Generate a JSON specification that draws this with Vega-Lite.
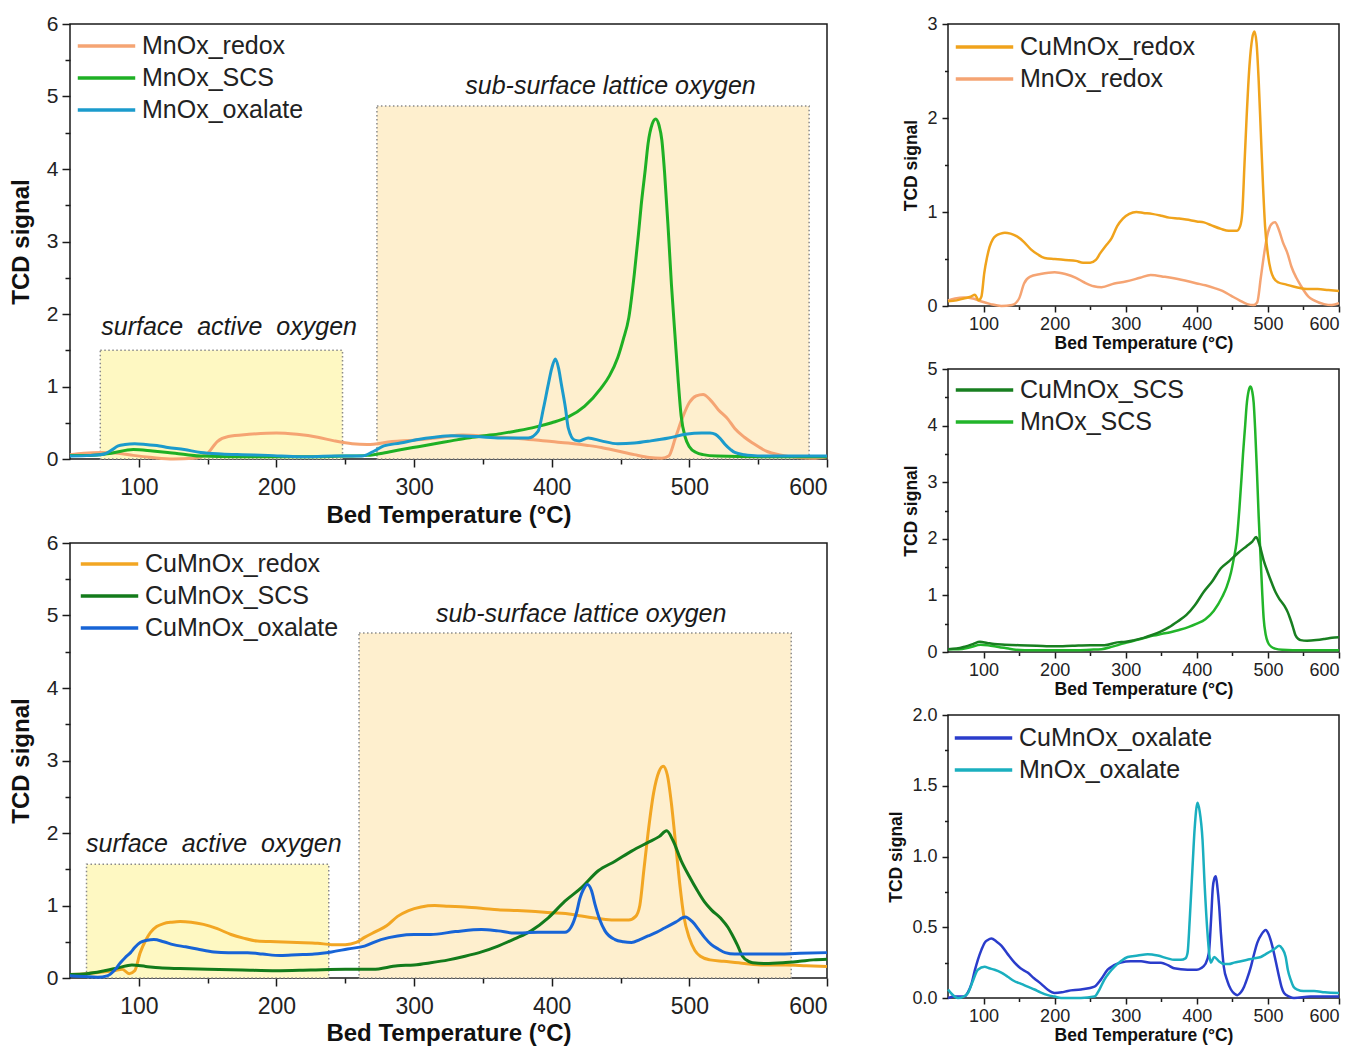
{
  "$schema": "https://vega.github.io/schema/vega-lite/v6.json",
  "padding": {"left": 8, "top": 12, "right": 0, "bottom": 0},
  "config": {
    "font": "Liberation Sans",
    "view": {"stroke": "#1a1a1a", "strokeWidth": 1.5},
    "axis": {"grid": false, "domain": false, "tickColor": "#1a1a1a", "tickWidth": 1.5, "labelColor": "#222222", "titleColor": "#111111", "labelFont": "Liberation Sans", "titleFont": "Liberation Sans", "titleFontWeight": "bold"},
    "legend": {"orient": "none", "title": null, "symbolType": "stroke", "labelFontSize": 25, "labelLimit": 0, "labelColor": "#222222", "labelFont": "Liberation Sans", "padding": 0, "clipHeight": 26, "rowPadding": 6, "labelOffset": 5, "symbolStrokeWidth": 3.5, "symbolSize": 3300}
  },
  "datasets": {
    "boxes": [
      {"panel": "A", "zone": "surface", "x1": 72, "x2": 248, "y1": 0, "y2": 1.5},
      {"panel": "A", "zone": "lattice", "x1": 273, "x2": 587, "y1": 0, "y2": 4.87},
      {"panel": "B", "zone": "surface", "x1": 62, "x2": 238, "y1": 0, "y2": 1.57},
      {"panel": "B", "zone": "lattice", "x1": 260, "x2": 574, "y1": 0, "y2": 4.76}
    ],
    "notes": [
      {"panel": "A", "t": 165.6, "v": 1.82, "label": "surface\u00a0 active\u00a0 oxygen"},
      {"panel": "A", "t": 442.7, "v": 5.14, "label": "sub-surface lattice oxygen"},
      {"panel": "B", "t": 154.5, "v": 1.85, "label": "surface\u00a0 active\u00a0 oxygen"},
      {"panel": "B", "t": 421.4, "v": 5.02, "label": "sub-surface lattice oxygen"}
    ],
    "curves": [
      {"s":"MnOx_redox","t":50,"v":0.06},{"s":"MnOx_redox","t":60,"v":0.08},{"s":"MnOx_redox","t":73,"v":0.09},{"s":"MnOx_redox","t":85,"v":0.08},{"s":"MnOx_redox","t":96,"v":0.05},{"s":"MnOx_redox","t":110,"v":0.02},{"s":"MnOx_redox","t":125,"v":0.0},{"s":"MnOx_redox","t":140,"v":0.01},{"s":"MnOx_redox","t":150,"v":0.08},{"s":"MnOx_redox","t":157,"v":0.24},{"s":"MnOx_redox","t":165,"v":0.31},{"s":"MnOx_redox","t":180,"v":0.34},{"s":"MnOx_redox","t":200,"v":0.36},{"s":"MnOx_redox","t":215,"v":0.34},{"s":"MnOx_redox","t":230,"v":0.3},{"s":"MnOx_redox","t":242,"v":0.25},{"s":"MnOx_redox","t":255,"v":0.21},{"s":"MnOx_redox","t":266,"v":0.2},{"s":"MnOx_redox","t":284,"v":0.24},{"s":"MnOx_redox","t":300,"v":0.26},{"s":"MnOx_redox","t":320,"v":0.3},{"s":"MnOx_redox","t":335,"v":0.33},{"s":"MnOx_redox","t":355,"v":0.31},{"s":"MnOx_redox","t":378,"v":0.28},{"s":"MnOx_redox","t":400,"v":0.24},{"s":"MnOx_redox","t":412,"v":0.22},{"s":"MnOx_redox","t":425,"v":0.19},{"s":"MnOx_redox","t":436,"v":0.16},{"s":"MnOx_redox","t":448,"v":0.11},{"s":"MnOx_redox","t":460,"v":0.06},{"s":"MnOx_redox","t":471,"v":0.02},{"s":"MnOx_redox","t":480,"v":0.01},{"s":"MnOx_redox","t":485,"v":0.04},{"s":"MnOx_redox","t":490,"v":0.3},{"s":"MnOx_redox","t":495,"v":0.57},{"s":"MnOx_redox","t":500,"v":0.78},{"s":"MnOx_redox","t":505,"v":0.87},{"s":"MnOx_redox","t":510,"v":0.89},{"s":"MnOx_redox","t":515,"v":0.82},{"s":"MnOx_redox","t":521,"v":0.68},{"s":"MnOx_redox","t":528,"v":0.55},{"s":"MnOx_redox","t":533,"v":0.42},{"s":"MnOx_redox","t":540,"v":0.3},{"s":"MnOx_redox","t":546,"v":0.22},{"s":"MnOx_redox","t":557,"v":0.1},{"s":"MnOx_redox","t":565,"v":0.06},{"s":"MnOx_redox","t":579,"v":0.02},{"s":"MnOx_redox","t":590,"v":0.01},{"s":"MnOx_redox","t":600,"v":0.03},
      {"s":"MnOx_SCS","t":50,"v":0.05},{"s":"MnOx_SCS","t":65,"v":0.05},{"s":"MnOx_SCS","t":80,"v":0.08},{"s":"MnOx_SCS","t":96,"v":0.13},{"s":"MnOx_SCS","t":110,"v":0.11},{"s":"MnOx_SCS","t":121,"v":0.09},{"s":"MnOx_SCS","t":135,"v":0.06},{"s":"MnOx_SCS","t":145,"v":0.04},{"s":"MnOx_SCS","t":170,"v":0.03},{"s":"MnOx_SCS","t":200,"v":0.03},{"s":"MnOx_SCS","t":230,"v":0.03},{"s":"MnOx_SCS","t":250,"v":0.04},{"s":"MnOx_SCS","t":266,"v":0.05},{"s":"MnOx_SCS","t":280,"v":0.09},{"s":"MnOx_SCS","t":291,"v":0.13},{"s":"MnOx_SCS","t":303,"v":0.17},{"s":"MnOx_SCS","t":315,"v":0.21},{"s":"MnOx_SCS","t":327,"v":0.25},{"s":"MnOx_SCS","t":339,"v":0.29},{"s":"MnOx_SCS","t":351,"v":0.32},{"s":"MnOx_SCS","t":363,"v":0.35},{"s":"MnOx_SCS","t":375,"v":0.39},{"s":"MnOx_SCS","t":388,"v":0.44},{"s":"MnOx_SCS","t":400,"v":0.5},{"s":"MnOx_SCS","t":412,"v":0.58},{"s":"MnOx_SCS","t":424,"v":0.73},{"s":"MnOx_SCS","t":436,"v":0.98},{"s":"MnOx_SCS","t":442,"v":1.15},{"s":"MnOx_SCS","t":448,"v":1.4},{"s":"MnOx_SCS","t":452,"v":1.65},{"s":"MnOx_SCS","t":456,"v":1.95},{"s":"MnOx_SCS","t":460,"v":2.55},{"s":"MnOx_SCS","t":463,"v":3.1},{"s":"MnOx_SCS","t":465,"v":3.5},{"s":"MnOx_SCS","t":468,"v":4.0},{"s":"MnOx_SCS","t":470,"v":4.35},{"s":"MnOx_SCS","t":473,"v":4.62},{"s":"MnOx_SCS","t":475.5,"v":4.69},{"s":"MnOx_SCS","t":478,"v":4.6},{"s":"MnOx_SCS","t":480,"v":4.4},{"s":"MnOx_SCS","t":482,"v":3.95},{"s":"MnOx_SCS","t":484.7,"v":3.15},{"s":"MnOx_SCS","t":487,"v":2.4},{"s":"MnOx_SCS","t":489.5,"v":1.72},{"s":"MnOx_SCS","t":492,"v":1.05},{"s":"MnOx_SCS","t":494,"v":0.6},{"s":"MnOx_SCS","t":497,"v":0.3},{"s":"MnOx_SCS","t":500,"v":0.17},{"s":"MnOx_SCS","t":505,"v":0.09},{"s":"MnOx_SCS","t":510,"v":0.06},{"s":"MnOx_SCS","t":520,"v":0.04},{"s":"MnOx_SCS","t":550,"v":0.03},{"s":"MnOx_SCS","t":600,"v":0.03},
      {"s":"MnOx_oxalate","t":50,"v":0.04},{"s":"MnOx_oxalate","t":65,"v":0.05},{"s":"MnOx_oxalate","t":75,"v":0.07},{"s":"MnOx_oxalate","t":80,"v":0.12},{"s":"MnOx_oxalate","t":85,"v":0.18},{"s":"MnOx_oxalate","t":90,"v":0.2},{"s":"MnOx_oxalate","t":97,"v":0.21},{"s":"MnOx_oxalate","t":105,"v":0.2},{"s":"MnOx_oxalate","t":115,"v":0.18},{"s":"MnOx_oxalate","t":121,"v":0.16},{"s":"MnOx_oxalate","t":133,"v":0.13},{"s":"MnOx_oxalate","t":145,"v":0.09},{"s":"MnOx_oxalate","t":160,"v":0.07},{"s":"MnOx_oxalate","t":175,"v":0.06},{"s":"MnOx_oxalate","t":194,"v":0.05},{"s":"MnOx_oxalate","t":218,"v":0.03},{"s":"MnOx_oxalate","t":242,"v":0.04},{"s":"MnOx_oxalate","t":262,"v":0.04},{"s":"MnOx_oxalate","t":270,"v":0.1},{"s":"MnOx_oxalate","t":278,"v":0.18},{"s":"MnOx_oxalate","t":290,"v":0.22},{"s":"MnOx_oxalate","t":303,"v":0.27},{"s":"MnOx_oxalate","t":315,"v":0.3},{"s":"MnOx_oxalate","t":327,"v":0.32},{"s":"MnOx_oxalate","t":345,"v":0.31},{"s":"MnOx_oxalate","t":363,"v":0.29},{"s":"MnOx_oxalate","t":383,"v":0.29},{"s":"MnOx_oxalate","t":390,"v":0.38},{"s":"MnOx_oxalate","t":394,"v":0.7},{"s":"MnOx_oxalate","t":397.5,"v":1.03},{"s":"MnOx_oxalate","t":400,"v":1.25},{"s":"MnOx_oxalate","t":402.7,"v":1.38},{"s":"MnOx_oxalate","t":405,"v":1.25},{"s":"MnOx_oxalate","t":407,"v":1.03},{"s":"MnOx_oxalate","t":410,"v":0.7},{"s":"MnOx_oxalate","t":412,"v":0.43},{"s":"MnOx_oxalate","t":416.7,"v":0.26},{"s":"MnOx_oxalate","t":420,"v":0.25},{"s":"MnOx_oxalate","t":426.5,"v":0.29},{"s":"MnOx_oxalate","t":436,"v":0.25},{"s":"MnOx_oxalate","t":448,"v":0.21},{"s":"MnOx_oxalate","t":460,"v":0.22},{"s":"MnOx_oxalate","t":472,"v":0.25},{"s":"MnOx_oxalate","t":485,"v":0.29},{"s":"MnOx_oxalate","t":497,"v":0.34},{"s":"MnOx_oxalate","t":509,"v":0.36},{"s":"MnOx_oxalate","t":515,"v":0.36},{"s":"MnOx_oxalate","t":519,"v":0.34},{"s":"MnOx_oxalate","t":523,"v":0.27},{"s":"MnOx_oxalate","t":526,"v":0.2},{"s":"MnOx_oxalate","t":530,"v":0.13},{"s":"MnOx_oxalate","t":533,"v":0.09},{"s":"MnOx_oxalate","t":540,"v":0.06},{"s":"MnOx_oxalate","t":545,"v":0.05},{"s":"MnOx_oxalate","t":560,"v":0.04},{"s":"MnOx_oxalate","t":600,"v":0.04},
      {"s":"CuMnOx_redox","t":50,"v":0.05},{"s":"CuMnOx_redox","t":62,"v":0.06},{"s":"CuMnOx_redox","t":72,"v":0.08},{"s":"CuMnOx_redox","t":82,"v":0.1},{"s":"CuMnOx_redox","t":88,"v":0.12},{"s":"CuMnOx_redox","t":93,"v":0.06},{"s":"CuMnOx_redox","t":97,"v":0.1},{"s":"CuMnOx_redox","t":101,"v":0.35},{"s":"CuMnOx_redox","t":105,"v":0.52},{"s":"CuMnOx_redox","t":108.5,"v":0.63},{"s":"CuMnOx_redox","t":113,"v":0.71},{"s":"CuMnOx_redox","t":118,"v":0.75},{"s":"CuMnOx_redox","t":124,"v":0.77},{"s":"CuMnOx_redox","t":130,"v":0.78},{"s":"CuMnOx_redox","t":138,"v":0.77},{"s":"CuMnOx_redox","t":147,"v":0.74},{"s":"CuMnOx_redox","t":157,"v":0.68},{"s":"CuMnOx_redox","t":167,"v":0.6},{"s":"CuMnOx_redox","t":176,"v":0.55},{"s":"CuMnOx_redox","t":186,"v":0.51},{"s":"CuMnOx_redox","t":200,"v":0.5},{"s":"CuMnOx_redox","t":215,"v":0.49},{"s":"CuMnOx_redox","t":230,"v":0.48},{"s":"CuMnOx_redox","t":240,"v":0.46},{"s":"CuMnOx_redox","t":250,"v":0.46},{"s":"CuMnOx_redox","t":258,"v":0.49},{"s":"CuMnOx_redox","t":264,"v":0.56},{"s":"CuMnOx_redox","t":272,"v":0.64},{"s":"CuMnOx_redox","t":280,"v":0.72},{"s":"CuMnOx_redox","t":288,"v":0.85},{"s":"CuMnOx_redox","t":296,"v":0.93},{"s":"CuMnOx_redox","t":305,"v":0.98},{"s":"CuMnOx_redox","t":315,"v":1.0},{"s":"CuMnOx_redox","t":325,"v":0.99},{"s":"CuMnOx_redox","t":337,"v":0.98},{"s":"CuMnOx_redox","t":350,"v":0.96},{"s":"CuMnOx_redox","t":361,"v":0.94},{"s":"CuMnOx_redox","t":375,"v":0.93},{"s":"CuMnOx_redox","t":385,"v":0.92},{"s":"CuMnOx_redox","t":400,"v":0.9},{"s":"CuMnOx_redox","t":410,"v":0.89},{"s":"CuMnOx_redox","t":420,"v":0.86},{"s":"CuMnOx_redox","t":434,"v":0.82},{"s":"CuMnOx_redox","t":445,"v":0.8},{"s":"CuMnOx_redox","t":456,"v":0.8},{"s":"CuMnOx_redox","t":461,"v":0.85},{"s":"CuMnOx_redox","t":464,"v":1.0},{"s":"CuMnOx_redox","t":467,"v":1.5},{"s":"CuMnOx_redox","t":470,"v":2.0},{"s":"CuMnOx_redox","t":474,"v":2.55},{"s":"CuMnOx_redox","t":478,"v":2.85},{"s":"CuMnOx_redox","t":481,"v":2.92},{"s":"CuMnOx_redox","t":484,"v":2.8},{"s":"CuMnOx_redox","t":487,"v":2.4},{"s":"CuMnOx_redox","t":490,"v":1.85},{"s":"CuMnOx_redox","t":493,"v":1.3},{"s":"CuMnOx_redox","t":496,"v":0.85},{"s":"CuMnOx_redox","t":500,"v":0.55},{"s":"CuMnOx_redox","t":504,"v":0.38},{"s":"CuMnOx_redox","t":508,"v":0.3},{"s":"CuMnOx_redox","t":515,"v":0.25},{"s":"CuMnOx_redox","t":525,"v":0.23},{"s":"CuMnOx_redox","t":540,"v":0.2},{"s":"CuMnOx_redox","t":555,"v":0.18},{"s":"CuMnOx_redox","t":570,"v":0.18},{"s":"CuMnOx_redox","t":585,"v":0.17},{"s":"CuMnOx_redox","t":600,"v":0.16},
      {"s":"CuMnOx_SCS","t":50,"v":0.05},{"s":"CuMnOx_SCS","t":62,"v":0.06},{"s":"CuMnOx_SCS","t":75,"v":0.1},{"s":"CuMnOx_SCS","t":85,"v":0.14},{"s":"CuMnOx_SCS","t":95,"v":0.18},{"s":"CuMnOx_SCS","t":105,"v":0.16},{"s":"CuMnOx_SCS","t":115,"v":0.14},{"s":"CuMnOx_SCS","t":130,"v":0.13},{"s":"CuMnOx_SCS","t":150,"v":0.12},{"s":"CuMnOx_SCS","t":175,"v":0.11},{"s":"CuMnOx_SCS","t":200,"v":0.1},{"s":"CuMnOx_SCS","t":225,"v":0.11},{"s":"CuMnOx_SCS","t":250,"v":0.12},{"s":"CuMnOx_SCS","t":270,"v":0.12},{"s":"CuMnOx_SCS","t":288,"v":0.17},{"s":"CuMnOx_SCS","t":300,"v":0.18},{"s":"CuMnOx_SCS","t":312,"v":0.21},{"s":"CuMnOx_SCS","t":325,"v":0.25},{"s":"CuMnOx_SCS","t":337,"v":0.3},{"s":"CuMnOx_SCS","t":349,"v":0.36},{"s":"CuMnOx_SCS","t":361,"v":0.44},{"s":"CuMnOx_SCS","t":373,"v":0.54},{"s":"CuMnOx_SCS","t":385,"v":0.65},{"s":"CuMnOx_SCS","t":397.5,"v":0.83},{"s":"CuMnOx_SCS","t":409.6,"v":1.06},{"s":"CuMnOx_SCS","t":421.8,"v":1.25},{"s":"CuMnOx_SCS","t":433.8,"v":1.48},{"s":"CuMnOx_SCS","t":446,"v":1.61},{"s":"CuMnOx_SCS","t":458,"v":1.75},{"s":"CuMnOx_SCS","t":470,"v":1.87},{"s":"CuMnOx_SCS","t":478,"v":1.95},{"s":"CuMnOx_SCS","t":483.5,"v":2.03},{"s":"CuMnOx_SCS","t":488,"v":1.9},{"s":"CuMnOx_SCS","t":494,"v":1.62},{"s":"CuMnOx_SCS","t":500,"v":1.4},{"s":"CuMnOx_SCS","t":506,"v":1.2},{"s":"CuMnOx_SCS","t":511,"v":1.05},{"s":"CuMnOx_SCS","t":516,"v":0.94},{"s":"CuMnOx_SCS","t":523,"v":0.82},{"s":"CuMnOx_SCS","t":528,"v":0.7},{"s":"CuMnOx_SCS","t":531,"v":0.6},{"s":"CuMnOx_SCS","t":535,"v":0.45},{"s":"CuMnOx_SCS","t":538.6,"v":0.3},{"s":"CuMnOx_SCS","t":543,"v":0.23},{"s":"CuMnOx_SCS","t":546,"v":0.21},{"s":"CuMnOx_SCS","t":555,"v":0.2},{"s":"CuMnOx_SCS","t":568,"v":0.21},{"s":"CuMnOx_SCS","t":580,"v":0.23},{"s":"CuMnOx_SCS","t":590,"v":0.25},{"s":"CuMnOx_SCS","t":600,"v":0.26},
      {"s":"CuMnOx_oxalate","t":50,"v":0.03},{"s":"CuMnOx_oxalate","t":60,"v":0.02},{"s":"CuMnOx_oxalate","t":70,"v":0.01},{"s":"CuMnOx_oxalate","t":77,"v":0.03},{"s":"CuMnOx_oxalate","t":82,"v":0.1},{"s":"CuMnOx_oxalate","t":86.6,"v":0.21},{"s":"CuMnOx_oxalate","t":90,"v":0.28},{"s":"CuMnOx_oxalate","t":94,"v":0.35},{"s":"CuMnOx_oxalate","t":97,"v":0.42},{"s":"CuMnOx_oxalate","t":101,"v":0.49},{"s":"CuMnOx_oxalate","t":106,"v":0.52},{"s":"CuMnOx_oxalate","t":111,"v":0.53},{"s":"CuMnOx_oxalate","t":118,"v":0.5},{"s":"CuMnOx_oxalate","t":125,"v":0.46},{"s":"CuMnOx_oxalate","t":134,"v":0.43},{"s":"CuMnOx_oxalate","t":142.5,"v":0.4},{"s":"CuMnOx_oxalate","t":154.6,"v":0.36},{"s":"CuMnOx_oxalate","t":165,"v":0.35},{"s":"CuMnOx_oxalate","t":179,"v":0.35},{"s":"CuMnOx_oxalate","t":190,"v":0.33},{"s":"CuMnOx_oxalate","t":203,"v":0.31},{"s":"CuMnOx_oxalate","t":215,"v":0.32},{"s":"CuMnOx_oxalate","t":227.5,"v":0.33},{"s":"CuMnOx_oxalate","t":240,"v":0.36},{"s":"CuMnOx_oxalate","t":251.7,"v":0.4},{"s":"CuMnOx_oxalate","t":264,"v":0.44},{"s":"CuMnOx_oxalate","t":276,"v":0.53},{"s":"CuMnOx_oxalate","t":288,"v":0.58},{"s":"CuMnOx_oxalate","t":300,"v":0.6},{"s":"CuMnOx_oxalate","t":312,"v":0.6},{"s":"CuMnOx_oxalate","t":330,"v":0.64},{"s":"CuMnOx_oxalate","t":349,"v":0.67},{"s":"CuMnOx_oxalate","t":361,"v":0.65},{"s":"CuMnOx_oxalate","t":373,"v":0.62},{"s":"CuMnOx_oxalate","t":390,"v":0.63},{"s":"CuMnOx_oxalate","t":409.6,"v":0.63},{"s":"CuMnOx_oxalate","t":414,"v":0.7},{"s":"CuMnOx_oxalate","t":418,"v":0.9},{"s":"CuMnOx_oxalate","t":420.5,"v":1.1},{"s":"CuMnOx_oxalate","t":423,"v":1.22},{"s":"CuMnOx_oxalate","t":426,"v":1.29},{"s":"CuMnOx_oxalate","t":429,"v":1.2},{"s":"CuMnOx_oxalate","t":431.4,"v":1.02},{"s":"CuMnOx_oxalate","t":435,"v":0.8},{"s":"CuMnOx_oxalate","t":438.7,"v":0.65},{"s":"CuMnOx_oxalate","t":446,"v":0.53},{"s":"CuMnOx_oxalate","t":452,"v":0.5},{"s":"CuMnOx_oxalate","t":458,"v":0.49},{"s":"CuMnOx_oxalate","t":464,"v":0.53},{"s":"CuMnOx_oxalate","t":470,"v":0.58},{"s":"CuMnOx_oxalate","t":476,"v":0.63},{"s":"CuMnOx_oxalate","t":482,"v":0.69},{"s":"CuMnOx_oxalate","t":490,"v":0.77},{"s":"CuMnOx_oxalate","t":497,"v":0.84},{"s":"CuMnOx_oxalate","t":502,"v":0.78},{"s":"CuMnOx_oxalate","t":506.7,"v":0.67},{"s":"CuMnOx_oxalate","t":511,"v":0.56},{"s":"CuMnOx_oxalate","t":516,"v":0.46},{"s":"CuMnOx_oxalate","t":521,"v":0.4},{"s":"CuMnOx_oxalate","t":526,"v":0.35},{"s":"CuMnOx_oxalate","t":533,"v":0.33},{"s":"CuMnOx_oxalate","t":543,"v":0.33},{"s":"CuMnOx_oxalate","t":560,"v":0.33},{"s":"CuMnOx_oxalate","t":580,"v":0.34},{"s":"CuMnOx_oxalate","t":600,"v":0.35}
    ],
    "ox2": [
      {"s":"CuMnOx_oxalate","t":50,"v":0.0},{"s":"CuMnOx_oxalate","t":60,"v":0.01},{"s":"CuMnOx_oxalate","t":73,"v":0.01},{"s":"CuMnOx_oxalate","t":78,"v":0.04},{"s":"CuMnOx_oxalate","t":83,"v":0.1},{"s":"CuMnOx_oxalate","t":88,"v":0.2},{"s":"CuMnOx_oxalate","t":92,"v":0.27},{"s":"CuMnOx_oxalate","t":97,"v":0.34},{"s":"CuMnOx_oxalate","t":101.5,"v":0.39},{"s":"CuMnOx_oxalate","t":106,"v":0.41},{"s":"CuMnOx_oxalate","t":111,"v":0.42},{"s":"CuMnOx_oxalate","t":118,"v":0.4},{"s":"CuMnOx_oxalate","t":125,"v":0.37},{"s":"CuMnOx_oxalate","t":134,"v":0.31},{"s":"CuMnOx_oxalate","t":143.6,"v":0.25},{"s":"CuMnOx_oxalate","t":152,"v":0.21},{"s":"CuMnOx_oxalate","t":162,"v":0.18},{"s":"CuMnOx_oxalate","t":171,"v":0.14},{"s":"CuMnOx_oxalate","t":181,"v":0.1},{"s":"CuMnOx_oxalate","t":190,"v":0.06},{"s":"CuMnOx_oxalate","t":200,"v":0.035},{"s":"CuMnOx_oxalate","t":210,"v":0.04},{"s":"CuMnOx_oxalate","t":218.5,"v":0.05},{"s":"CuMnOx_oxalate","t":237,"v":0.06},{"s":"CuMnOx_oxalate","t":256,"v":0.08},{"s":"CuMnOx_oxalate","t":265,"v":0.13},{"s":"CuMnOx_oxalate","t":274.6,"v":0.2},{"s":"CuMnOx_oxalate","t":283,"v":0.23},{"s":"CuMnOx_oxalate","t":293,"v":0.25},{"s":"CuMnOx_oxalate","t":307,"v":0.26},{"s":"CuMnOx_oxalate","t":321.5,"v":0.26},{"s":"CuMnOx_oxalate","t":335,"v":0.25},{"s":"CuMnOx_oxalate","t":349.5,"v":0.25},{"s":"CuMnOx_oxalate","t":360,"v":0.23},{"s":"CuMnOx_oxalate","t":368,"v":0.21},{"s":"CuMnOx_oxalate","t":387,"v":0.2},{"s":"CuMnOx_oxalate","t":400,"v":0.2},{"s":"CuMnOx_oxalate","t":405.7,"v":0.21},{"s":"CuMnOx_oxalate","t":412,"v":0.24},{"s":"CuMnOx_oxalate","t":417,"v":0.32},{"s":"CuMnOx_oxalate","t":420,"v":0.55},{"s":"CuMnOx_oxalate","t":422.5,"v":0.78},{"s":"CuMnOx_oxalate","t":424.4,"v":0.84},{"s":"CuMnOx_oxalate","t":426.7,"v":0.86},{"s":"CuMnOx_oxalate","t":429,"v":0.78},{"s":"CuMnOx_oxalate","t":431.4,"v":0.65},{"s":"CuMnOx_oxalate","t":434,"v":0.45},{"s":"CuMnOx_oxalate","t":438,"v":0.22},{"s":"CuMnOx_oxalate","t":443,"v":0.12},{"s":"CuMnOx_oxalate","t":448,"v":0.06},{"s":"CuMnOx_oxalate","t":453,"v":0.03},{"s":"CuMnOx_oxalate","t":457,"v":0.02},{"s":"CuMnOx_oxalate","t":462,"v":0.04},{"s":"CuMnOx_oxalate","t":466.5,"v":0.08},{"s":"CuMnOx_oxalate","t":471,"v":0.14},{"s":"CuMnOx_oxalate","t":476,"v":0.22},{"s":"CuMnOx_oxalate","t":480,"v":0.3},{"s":"CuMnOx_oxalate","t":485,"v":0.39},{"s":"CuMnOx_oxalate","t":491,"v":0.45},{"s":"CuMnOx_oxalate","t":497,"v":0.48},{"s":"CuMnOx_oxalate","t":501,"v":0.45},{"s":"CuMnOx_oxalate","t":506,"v":0.37},{"s":"CuMnOx_oxalate","t":511,"v":0.26},{"s":"CuMnOx_oxalate","t":515.7,"v":0.15},{"s":"CuMnOx_oxalate","t":519,"v":0.08},{"s":"CuMnOx_oxalate","t":522.7,"v":0.035},{"s":"CuMnOx_oxalate","t":530,"v":0.01},{"s":"CuMnOx_oxalate","t":536.7,"v":0.0},{"s":"CuMnOx_oxalate","t":560,"v":0.01},{"s":"CuMnOx_oxalate","t":600,"v":0.01},
      {"s":"MnOx_oxalate","t":50,"v":0.06},{"s":"MnOx_oxalate","t":55,"v":0.03},{"s":"MnOx_oxalate","t":64,"v":0.0},{"s":"MnOx_oxalate","t":72,"v":0.01},{"s":"MnOx_oxalate","t":78,"v":0.035},{"s":"MnOx_oxalate","t":85,"v":0.12},{"s":"MnOx_oxalate","t":92,"v":0.2},{"s":"MnOx_oxalate","t":101.5,"v":0.22},{"s":"MnOx_oxalate","t":108,"v":0.21},{"s":"MnOx_oxalate","t":115.5,"v":0.2},{"s":"MnOx_oxalate","t":125,"v":0.18},{"s":"MnOx_oxalate","t":134,"v":0.15},{"s":"MnOx_oxalate","t":143,"v":0.12},{"s":"MnOx_oxalate","t":153,"v":0.1},{"s":"MnOx_oxalate","t":162,"v":0.08},{"s":"MnOx_oxalate","t":171.7,"v":0.06},{"s":"MnOx_oxalate","t":180,"v":0.04},{"s":"MnOx_oxalate","t":190.4,"v":0.02},{"s":"MnOx_oxalate","t":200,"v":0.01},{"s":"MnOx_oxalate","t":209,"v":0.0},{"s":"MnOx_oxalate","t":237,"v":0.0},{"s":"MnOx_oxalate","t":256,"v":0.01},{"s":"MnOx_oxalate","t":263,"v":0.06},{"s":"MnOx_oxalate","t":270,"v":0.13},{"s":"MnOx_oxalate","t":277,"v":0.18},{"s":"MnOx_oxalate","t":284,"v":0.22},{"s":"MnOx_oxalate","t":293,"v":0.26},{"s":"MnOx_oxalate","t":302.7,"v":0.29},{"s":"MnOx_oxalate","t":317,"v":0.3},{"s":"MnOx_oxalate","t":330.8,"v":0.31},{"s":"MnOx_oxalate","t":345,"v":0.3},{"s":"MnOx_oxalate","t":358.9,"v":0.28},{"s":"MnOx_oxalate","t":368,"v":0.27},{"s":"MnOx_oxalate","t":377.6,"v":0.27},{"s":"MnOx_oxalate","t":384,"v":0.28},{"s":"MnOx_oxalate","t":387,"v":0.32},{"s":"MnOx_oxalate","t":390,"v":0.55},{"s":"MnOx_oxalate","t":394,"v":0.93},{"s":"MnOx_oxalate","t":397,"v":1.2},{"s":"MnOx_oxalate","t":401,"v":1.38},{"s":"MnOx_oxalate","t":404,"v":1.32},{"s":"MnOx_oxalate","t":408,"v":1.12},{"s":"MnOx_oxalate","t":411,"v":0.8},{"s":"MnOx_oxalate","t":415,"v":0.46},{"s":"MnOx_oxalate","t":419.7,"v":0.25},{"s":"MnOx_oxalate","t":424.4,"v":0.29},{"s":"MnOx_oxalate","t":431,"v":0.26},{"s":"MnOx_oxalate","t":438.4,"v":0.24},{"s":"MnOx_oxalate","t":445,"v":0.24},{"s":"MnOx_oxalate","t":452.5,"v":0.25},{"s":"MnOx_oxalate","t":462,"v":0.26},{"s":"MnOx_oxalate","t":471,"v":0.27},{"s":"MnOx_oxalate","t":480,"v":0.28},{"s":"MnOx_oxalate","t":490,"v":0.29},{"s":"MnOx_oxalate","t":497,"v":0.31},{"s":"MnOx_oxalate","t":504,"v":0.33},{"s":"MnOx_oxalate","t":510,"v":0.35},{"s":"MnOx_oxalate","t":515.7,"v":0.37},{"s":"MnOx_oxalate","t":520,"v":0.35},{"s":"MnOx_oxalate","t":525,"v":0.29},{"s":"MnOx_oxalate","t":528,"v":0.2},{"s":"MnOx_oxalate","t":532,"v":0.13},{"s":"MnOx_oxalate","t":536,"v":0.08},{"s":"MnOx_oxalate","t":541.4,"v":0.06},{"s":"MnOx_oxalate","t":550,"v":0.05},{"s":"MnOx_oxalate","t":565,"v":0.05},{"s":"MnOx_oxalate","t":580,"v":0.04},{"s":"MnOx_oxalate","t":600,"v":0.035}
    ]
  },
  "resolve": {"scale": {"color": "independent"}, "legend": {"color": "independent"}},
  "spacing": 53,
  "hconcat": [
    {
      "bounds": "flush",
      "spacing": 84,
      "resolve": {"scale": {"color": "independent"}, "legend": {"color": "independent"}},
      "vconcat": [
        {
          "width": 757, "height": 435,
          "resolve": {"axis": {"x": "independent", "y": "independent"}},
          "layer": [
            {
              "data": {"name": "boxes"},
              "transform": [{"filter": "datum.panel == 'A'"}],
              "mark": {"type": "rect", "stroke": "#8a8a8a", "strokeWidth": 1.5, "strokeDash": [1.5, 2.5]},
              "encoding": {
                "x": {"field": "x1", "type": "quantitative", "scale": {"domain": [50, 600], "nice": false, "zero": false}, "axis": {"orient": "bottom", "values": [100, 200, 300, 400, 500, 600], "tickSize": 8, "labelFontSize": 23, "labelPadding": 9, "title": "Bed Temperature (°C)", "titleFontSize": 24, "titlePadding": 4}},
                "x2": {"field": "x2"},
                "y": {"field": "y1", "type": "quantitative", "scale": {"domain": [0, 6], "nice": false, "zero": false}, "axis": {"orient": "left", "values": [0, 1, 2, 3, 4, 5, 6], "tickSize": 8, "labelFontSize": 21, "labelPadding": 4, "title": "TCD signal", "titleFontSize": 24, "titlePadding": 13}},
                "y2": {"field": "y2"},
                "fill": {"field": "zone", "type": "nominal", "scale": {"domain": ["surface", "lattice"], "range": ["#FEF8C2", "#FEEFCE"]}, "legend": null}
              }
            },
            {
              "data": {"name": "curves"},
              "transform": [{"filter": "datum.s == 'MnOx_redox' || datum.s == 'MnOx_SCS' || datum.s == 'MnOx_oxalate'"}],
              "mark": {"type": "line", "strokeWidth": 3, "interpolate": "monotone"},
              "encoding": {
                "x": {"field": "t", "type": "quantitative", "scale": {"domain": [50, 600], "nice": false, "zero": false}, "axis": null},
                "y": {"field": "v", "type": "quantitative", "scale": {"domain": [0, 6], "nice": false, "zero": false}, "axis": null},
                "color": {"field": "s", "type": "nominal", "scale": {"domain": ["MnOx_redox", "MnOx_SCS", "MnOx_oxalate"], "range": ["#F5A473", "#1EB024", "#1B9BCC"]}, "legend": {"legendX": 6, "legendY": 9}}
              }
            },
            {
              "data": {"name": "notes"},
              "transform": [{"filter": "datum.panel == 'A'"}],
              "mark": {"type": "text", "fontSize": 25, "fontStyle": "italic", "color": "#1a1a1a", "align": "center", "baseline": "middle"},
              "encoding": {
                "x": {"field": "t", "type": "quantitative", "scale": {"domain": [50, 600], "nice": false, "zero": false}, "axis": {"orient": "bottom", "values": [150, 250, 350, 450, 550], "tickSize": 5, "labels": false, "title": null}},
                "y": {"field": "v", "type": "quantitative", "scale": {"domain": [0, 6], "nice": false, "zero": false}, "axis": {"orient": "left", "values": [0.5, 1.5, 2.5, 3.5, 4.5, 5.5], "tickSize": 5, "labels": false, "title": null}},
                "text": {"field": "label"}
              }
            }
          ]
        },
        {
          "width": 757, "height": 435,
          "resolve": {"axis": {"x": "independent", "y": "independent"}},
          "layer": [
            {
              "data": {"name": "boxes"},
              "transform": [{"filter": "datum.panel == 'B'"}],
              "mark": {"type": "rect", "stroke": "#8a8a8a", "strokeWidth": 1.5, "strokeDash": [1.5, 2.5]},
              "encoding": {
                "x": {"field": "x1", "type": "quantitative", "scale": {"domain": [50, 600], "nice": false, "zero": false}, "axis": {"orient": "bottom", "values": [100, 200, 300, 400, 500, 600], "tickSize": 8, "labelFontSize": 23, "labelPadding": 9, "title": "Bed Temperature (°C)", "titleFontSize": 24, "titlePadding": 3}},
                "x2": {"field": "x2"},
                "y": {"field": "y1", "type": "quantitative", "scale": {"domain": [0, 6], "nice": false, "zero": false}, "axis": {"orient": "left", "values": [0, 1, 2, 3, 4, 5, 6], "tickSize": 8, "labelFontSize": 21, "labelPadding": 4, "title": "TCD signal", "titleFontSize": 24, "titlePadding": 13}},
                "y2": {"field": "y2"},
                "fill": {"field": "zone", "type": "nominal", "scale": {"domain": ["surface", "lattice"], "range": ["#FEF8C2", "#FEEFCE"]}, "legend": null}
              }
            },
            {
              "data": {"name": "curves"},
              "transform": [{"filter": "datum.s == 'CuMnOx_redox' || datum.s == 'CuMnOx_SCS' || datum.s == 'CuMnOx_oxalate'"}],
              "mark": {"type": "line", "strokeWidth": 3, "interpolate": "monotone"},
              "encoding": {
                "x": {"field": "t", "type": "quantitative", "scale": {"domain": [50, 600], "nice": false, "zero": false}, "axis": null},
                "y": {"field": "v", "type": "quantitative", "scale": {"domain": [0, 6], "nice": false, "zero": false}, "axis": null},
                "color": {"field": "s", "type": "nominal", "scale": {"domain": ["CuMnOx_redox", "CuMnOx_SCS", "CuMnOx_oxalate"], "range": ["#F2A623", "#137B1B", "#1764D6"]}, "legend": {"legendX": 9, "legendY": 8}}
              }
            },
            {
              "data": {"name": "notes"},
              "transform": [{"filter": "datum.panel == 'B'"}],
              "mark": {"type": "text", "fontSize": 25, "fontStyle": "italic", "color": "#1a1a1a", "align": "center", "baseline": "middle"},
              "encoding": {
                "x": {"field": "t", "type": "quantitative", "scale": {"domain": [50, 600], "nice": false, "zero": false}, "axis": {"orient": "bottom", "values": [150, 250, 350, 450, 550], "tickSize": 5, "labels": false, "title": null}},
                "y": {"field": "v", "type": "quantitative", "scale": {"domain": [0, 6], "nice": false, "zero": false}, "axis": {"orient": "left", "values": [0.5, 1.5, 2.5, 3.5, 4.5, 5.5], "tickSize": 5, "labels": false, "title": null}},
                "text": {"field": "label"}
              }
            }
          ]
        }
      ]
    },
    {
      "bounds": "flush",
      "spacing": 63,
      "resolve": {"scale": {"color": "independent"}, "legend": {"color": "independent"}},
      "vconcat": [
        {
          "width": 391, "height": 282,
          "resolve": {"axis": {"x": "independent", "y": "independent"}},
          "data": {"name": "curves"},
          "transform": [{"filter": "datum.s == 'CuMnOx_redox' || datum.s == 'MnOx_redox'"}],
          "layer": [
            {
              "mark": {"type": "line", "strokeWidth": 2.5, "interpolate": "monotone"},
              "encoding": {
                "x": {"field": "t", "type": "quantitative", "scale": {"domain": [50, 600], "nice": false, "zero": false}, "axis": {"orient": "bottom", "values": [100, 200, 300, 400, 500, 600], "tickSize": 6, "labelFontSize": 18, "labelPadding": 3, "title": "Bed Temperature (°C)", "titleFontSize": 17.5, "titlePadding": 1}},
                "y": {"field": "v", "type": "quantitative", "scale": {"domain": [0, 3], "nice": false, "zero": false}, "axis": {"orient": "left", "values": [0, 1, 2, 3], "tickSize": 6, "labelFontSize": 18, "labelPadding": 5, "title": "TCD signal", "titleFontSize": 17.5, "titlePadding": 6}},
                "color": {"field": "s", "type": "nominal", "scale": {"domain": ["CuMnOx_redox", "MnOx_redox"], "range": ["#F0A31C", "#F5A473"]}, "legend": {"legendX": 6, "legendY": 10}}
              }
            },
            {
              "mark": {"type": "line", "strokeOpacity": 0},
              "encoding": {
                "x": {"field": "t", "type": "quantitative", "scale": {"domain": [50, 600], "nice": false, "zero": false}, "axis": {"orient": "bottom", "values": [150, 250, 350, 450, 550], "tickSize": 3.5, "labels": false, "title": null}},
                "y": {"field": "v", "type": "quantitative", "scale": {"domain": [0, 3], "nice": false, "zero": false}, "axis": {"orient": "left", "values": [0.5, 1.5, 2.5], "tickSize": 3.5, "labels": false, "title": null}},
                "detail": {"field": "s"}
              }
            }
          ]
        },
        {
          "width": 391, "height": 283,
          "resolve": {"axis": {"x": "independent", "y": "independent"}},
          "data": {"name": "curves"},
          "transform": [{"filter": "datum.s == 'CuMnOx_SCS' || datum.s == 'MnOx_SCS'"}],
          "layer": [
            {
              "mark": {"type": "line", "strokeWidth": 2.5, "interpolate": "monotone"},
              "encoding": {
                "x": {"field": "t", "type": "quantitative", "scale": {"domain": [50, 600], "nice": false, "zero": false}, "axis": {"orient": "bottom", "values": [100, 200, 300, 400, 500, 600], "tickSize": 6, "labelFontSize": 18, "labelPadding": 3, "title": "Bed Temperature (°C)", "titleFontSize": 17.5, "titlePadding": 1}},
                "y": {"field": "v", "type": "quantitative", "scale": {"domain": [0, 5], "nice": false, "zero": false}, "axis": {"orient": "left", "values": [0, 1, 2, 3, 4, 5], "tickSize": 6, "labelFontSize": 18, "labelPadding": 5, "title": "TCD signal", "titleFontSize": 17.5, "titlePadding": 6}},
                "color": {"field": "s", "type": "nominal", "scale": {"domain": ["CuMnOx_SCS", "MnOx_SCS"], "range": ["#187F20", "#22B52A"]}, "legend": {"legendX": 6, "legendY": 8}}
              }
            },
            {
              "mark": {"type": "line", "strokeOpacity": 0},
              "encoding": {
                "x": {"field": "t", "type": "quantitative", "scale": {"domain": [50, 600], "nice": false, "zero": false}, "axis": {"orient": "bottom", "values": [150, 250, 350, 450, 550], "tickSize": 3.5, "labels": false, "title": null}},
                "y": {"field": "v", "type": "quantitative", "scale": {"domain": [0, 5], "nice": false, "zero": false}, "axis": {"orient": "left", "values": [0.5, 1.5, 2.5, 3.5, 4.5], "tickSize": 3.5, "labels": false, "title": null}},
                "detail": {"field": "s"}
              }
            }
          ]
        },
        {
          "width": 391, "height": 283,
          "resolve": {"axis": {"x": "independent", "y": "independent"}},
          "data": {"name": "ox2"},
          "layer": [
            {
              "mark": {"type": "line", "strokeWidth": 2.5, "interpolate": "monotone"},
              "encoding": {
                "x": {"field": "t", "type": "quantitative", "scale": {"domain": [50, 600], "nice": false, "zero": false}, "axis": {"orient": "bottom", "values": [100, 200, 300, 400, 500, 600], "tickSize": 6, "labelFontSize": 18, "labelPadding": 3, "title": "Bed Temperature (°C)", "titleFontSize": 17.5, "titlePadding": 1}},
                "y": {"field": "v", "type": "quantitative", "scale": {"domain": [0, 2], "nice": false, "zero": false}, "axis": {"orient": "left", "values": [0, 0.5, 1, 1.5, 2], "format": ".1f", "tickSize": 6, "labelFontSize": 18, "labelPadding": 5, "title": "TCD signal", "titleFontSize": 17.5, "titlePadding": 6}},
                "color": {"field": "s", "type": "nominal", "scale": {"domain": ["CuMnOx_oxalate", "MnOx_oxalate"], "range": ["#2A3CCB", "#1AAFBF"]}, "legend": {"legendX": 5, "legendY": 10}}
              }
            },
            {
              "mark": {"type": "line", "strokeOpacity": 0},
              "encoding": {
                "x": {"field": "t", "type": "quantitative", "scale": {"domain": [50, 600], "nice": false, "zero": false}, "axis": {"orient": "bottom", "values": [150, 250, 350, 450, 550], "tickSize": 3.5, "labels": false, "title": null}},
                "y": {"field": "v", "type": "quantitative", "scale": {"domain": [0, 2], "nice": false, "zero": false}, "axis": {"orient": "left", "values": [0.25, 0.75, 1.25, 1.75], "tickSize": 3.5, "labels": false, "title": null}},
                "detail": {"field": "s"}
              }
            }
          ]
        }
      ]
    }
  ]
}
